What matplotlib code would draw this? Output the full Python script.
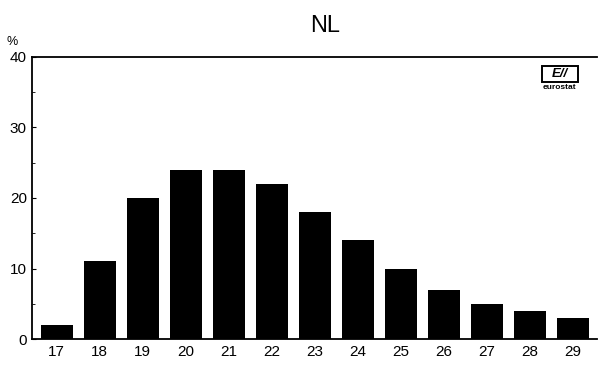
import matplotlib
matplotlib.use('Agg')
import matplotlib.pyplot as plt
import matplotlib.patches as patches

ages = [17, 18, 19, 20, 21, 22, 23, 24, 25, 26, 27, 28, 29]
share = [2, 11, 20, 24, 24, 22, 18, 14, 10, 7, 5, 4, 3]

plt.rcParams['font.family'] = ['Liberation Sans', 'DejaVu Sans']

fig = plt.figure(figsize=(6, 3.67), dpi=100)
ax = fig.add_axes([0.053, 0.076, 0.942, 0.769])

ax.bar(ages, share, width=0.75, color='black')

ax.set_xlim(16.42, 29.56)
ax.set_ylim(0, 40)
ax.set_xticks(ages)
ax.set_yticks([0, 10, 20, 30, 40])
ax.set_yticks([5, 15, 25, 35], minor=True)
ax.tick_params(axis='y', direction='in', length=3, labelsize=11, width=0.8)
ax.tick_params(axis='y', which='minor', direction='in', length=2, width=0.6)
ax.tick_params(axis='x', length=0, labelsize=11, pad=4)

ax.spines['right'].set_visible(False)
for s in ['left', 'top', 'bottom']:
    ax.spines[s].set_linewidth(1.3)

fig.text(0.542, 0.93, 'NL', fontsize=17, ha='center', va='center')
fig.text(0.02, 0.885, '%', fontsize=9, ha='center', va='center')

# eurostat logo
logo = patches.Rectangle((0.903, 0.777), 0.06, 0.042, transform=fig.transFigure,
                         facecolor='white', edgecolor='black', linewidth=1.4)
fig.patches.append(logo)
fig.text(0.933, 0.799, 'E//', fontsize=9.5, fontweight='bold', ha='center', va='center',
         fontstyle='italic')
fig.text(0.933, 0.761, 'eurostat', fontsize=6, fontweight='bold', ha='center', va='center')

fig.savefig('out.png', dpi=100)
